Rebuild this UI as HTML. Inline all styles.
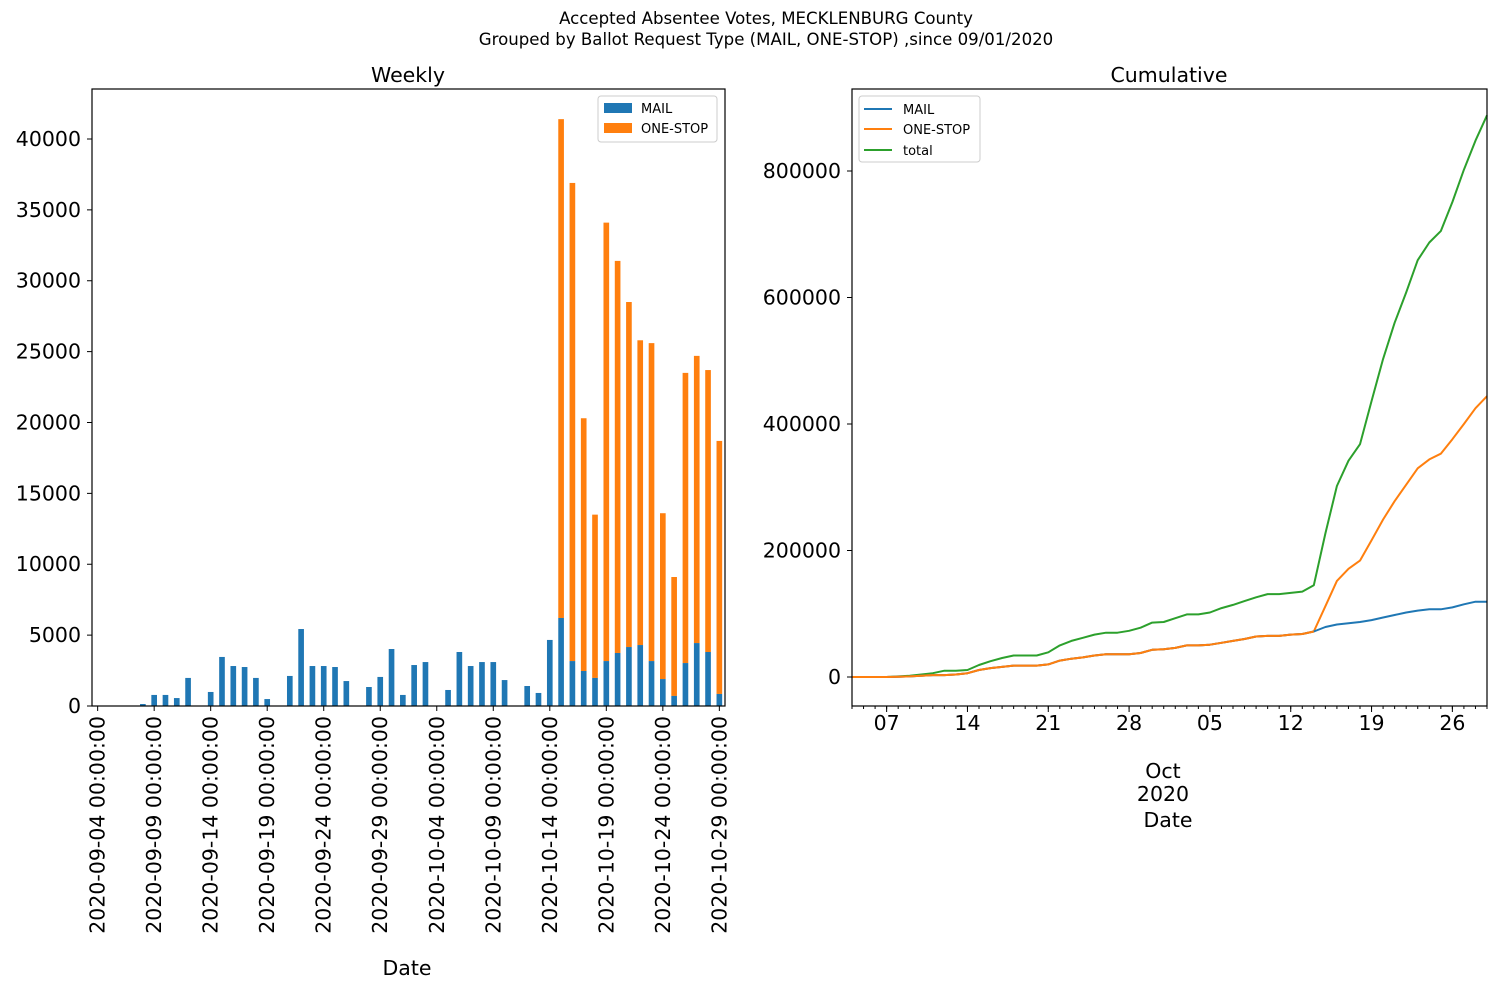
<!DOCTYPE html>
<html><head><meta charset="utf-8"><style>
body{margin:0;background:#fff}
svg{display:block;font-family:"DejaVu Sans","Liberation Sans",sans-serif}
</style></head><body>
<svg id="c" width="1495" height="988" viewBox="0 0 1495 988" xmlns="http://www.w3.org/2000/svg">
<text x="766" y="24" font-size="16.6" text-anchor="middle">Accepted Absentee Votes, MECKLENBURG County</text>
<text x="766" y="45" font-size="16.6" text-anchor="middle">Grouped by Ballot Request Type (MAIL, ONE-STOP) ,since 09/01/2020</text>
<text x="408" y="82" font-size="20.5" text-anchor="middle">Weekly</text>
<text x="1169" y="82" font-size="20.5" text-anchor="middle">Cumulative</text>
<g id="left"></g>
<g id="right"></g>
</svg>
<script>
// ---- Weekly data (Sep 4 .. Oct 29) ----
const barDates = ["2020-09-04","2020-09-09","2020-09-14","2020-09-19","2020-09-24","2020-09-29","2020-10-04","2020-10-09","2020-10-14","2020-10-19","2020-10-24","2020-10-29"];
const mailDaily = [0,0,0,0,140,780,780,560,1980,0,990,3460,2820,2750,1980,490,0,2120,5430,2820,2820,2750,1760,0,1340,2050,4020,780,2890,3100,0,1130,3810,2820,3100,3100,1830,0,1410,920,4660,6210,3170,2470,1980,3170,3740,4160,4300,3170,1900,710,3030,4440,3810,850];
const totalDaily = [0,0,0,0,140,780,780,560,1980,0,990,3460,2820,2750,1980,490,0,2120,5430,2820,2820,2750,1760,0,1340,2050,4020,780,2890,3100,0,1130,3810,2820,3100,3100,1830,0,1410,920,4660,41400,36900,20300,13500,34100,31400,28500,25800,25600,13600,9100,23500,24700,23700,18700];
const leftYTicks = [0,5000,10000,15000,20000,25000,30000,35000,40000];
// ---- Cumulative data (thousands) ----
const cumMail = [0,0,0,0,0.5,1,2,3,3,4,6,11,14,16,18,18,18,20,26,29,31,34,36,36,36,38,43,44,46,50,50,51,54,57,60,64,65,65,67,68,72,79,83,85,87,90,94,98,102,105,107,107,110,115,119,119];
const cumOneStop = [0,0,0,0,0.5,1,2,3,3,4,6,11,14,16,18,18,18,20,26,29,31,34,36,36,36,38,43,44,46,50,50,51,54,57,60,64,65,65,67,68,72,112,152,171,184,216,249,278,304,330,344,353,376,400,425,444];
const cumTotal = [0,0,0,0,1,2,4,6,10,10,11,19,25,30,34,34,34,39,50,57,62,67,70,70,73,78,86,87,93,99,99,102,109,114,120,126,131,131,133,135,145,227,302,342,368,436,503,560,608,659,687,705,751,802,848,888];
const rightYTicks = [0,200000,400000,600000,800000];
const rightXLabels = ["07","14","21","28","05","12","19","26"];
const rightXLabelDays = [3,10,17,24,31,38,45,52];

const NS="http://www.w3.org/2000/svg";
function mk(p,tag,attrs,txt){const e=document.createElementNS(NS,tag);for(const k in attrs)e.setAttribute(k,attrs[k]);if(txt!==undefined)e.textContent=txt;p.appendChild(e);return e;}
const L=document.getElementById('left'), R=document.getElementById('right');
const blue="#1f77b4", orange="#ff7f0e", green="#2ca02c";
const FS=20.5;

// Left axes
const lx0=92,lx1=725,ly0=89,ly1=706, lymax=43527;
const n=totalDaily.length, step=(lx1-lx0)/n;
const lxs=i=>lx0+(i+0.5)*step;
const lys=v=>ly1-(v/lymax)*(ly1-ly0);
const bw=step*0.5;
for(let i=0;i<n;i++){
  if(totalDaily[i]>mailDaily[i]){
    const r=mk(L,'rect',{x:lxs(i)-bw/2,y:lys(totalDaily[i]),width:bw,height:lys(mailDaily[i])-lys(totalDaily[i]),fill:orange});
    
    
  }
  if(mailDaily[i]>0){
    const r=mk(L,'rect',{x:lxs(i)-bw/2,y:lys(mailDaily[i]),width:bw,height:ly1-lys(mailDaily[i]),fill:blue});
    
    
  }
}
mk(L,'rect',{x:lx0,y:ly0,width:lx1-lx0,height:ly1-ly0,fill:'none',stroke:'#000','stroke-width':1.2});
leftYTicks.forEach(v=>{
  const y=lys(v);
  mk(L,'line',{x1:lx0-5,x2:lx0,y1:y,y2:y,stroke:'#000'});
  const t=mk(L,'text',{x:lx0-11,y:y+7,'font-size':FS,'text-anchor':'end'},String(v));
  
  
});
barDates.forEach((d,k)=>{
  const x=lxs(k*5);
  mk(L,'line',{x1:x,x2:x,y1:ly1,y2:ly1+5,stroke:'#000'});
  const t=mk(L,'text',{transform:`translate(${x+7},${ly1+10}) rotate(-90)`,'font-size':FS,'text-anchor':'end'},d+" 00:00:00");
  
  
});
mk(L,'text',{x:407,y:975,'font-size':FS,'text-anchor':'middle'},'Date');
// left legend
const lg=mk(L,'g',{});


mk(lg,'rect',{x:598,y:96,width:119,height:46,rx:3,fill:'#fff',stroke:'#ccc'});
mk(lg,'rect',{x:604,y:103,width:28,height:10,fill:blue});
mk(lg,'text',{x:641,y:113,'font-size':13},'MAIL');
mk(lg,'rect',{x:604,y:123,width:28,height:10,fill:orange});
mk(lg,'text',{x:641,y:133,'font-size':13},'ONE-STOP');

// Right axes
const rx0=852,rx1=1487,ry0=89,ry1=706;
const m=cumTotal.length;
const rxs=i=>rx0+i*(rx1-rx0)/(m-1);
const rys=v=>677-(v/800000)*506;
function line(arr,col,name){
  const pts=arr.map((v,i)=>rxs(i).toFixed(1)+','+rys(v*1000).toFixed(1)).join(' ');
  const p=mk(R,'polyline',{points:pts,fill:'none',stroke:col,'stroke-width':2,'stroke-linejoin':'round'});
  
  
}
line(cumTotal,green,'line-total');
line(cumOneStop,orange,'line-one-stop');
line(cumMail,blue,'line-mail');
line(cumOneStop.slice(0,41),orange,'line-one-stop-overlap');
mk(R,'rect',{x:rx0,y:ry0,width:rx1-rx0,height:ry1-ry0,fill:'none',stroke:'#000','stroke-width':1.2});
rightYTicks.forEach(v=>{
  const y=rys(v);
  mk(R,'line',{x1:rx0-5,x2:rx0,y1:y,y2:y,stroke:'#000'});
  const t=mk(R,'text',{x:rx0-11,y:y+7,'font-size':FS,'text-anchor':'end'},String(v));
  
  
});
for(let i=0;i<m;i++){mk(R,'line',{x1:rxs(i),x2:rxs(i),y1:ry1,y2:ry1+3,stroke:'#000'});}
rightXLabelDays.forEach((d,k)=>{
  const x=rxs(d);
  mk(R,'line',{x1:x,x2:x,y1:ry1,y2:ry1+6,stroke:'#000'});
  const t=mk(R,'text',{x:x,y:730,'font-size':FS,'text-anchor':'middle'},rightXLabels[k]);
  
  
});
mk(R,'text',{x:1163,y:778,'font-size':FS,'text-anchor':'middle'},'Oct');
mk(R,'text',{x:1163,y:801,'font-size':FS,'text-anchor':'middle'},'2020');
mk(R,'text',{x:1168,y:827,'font-size':FS,'text-anchor':'middle'},'Date');
const rg=mk(R,'g',{});


mk(rg,'rect',{x:859,y:96,width:121,height:66,rx:3,fill:'#fff',stroke:'#ccc'});
[[blue,'MAIL',109],[orange,'ONE-STOP',129],[green,'total',150]].forEach(([c,t,y])=>{
  mk(rg,'line',{x1:864,x2:892,y1:y,y2:y,stroke:c,'stroke-width':2});
  mk(rg,'text',{x:903,y:y+5,'font-size':13},t);
});
</script>
</body></html>
